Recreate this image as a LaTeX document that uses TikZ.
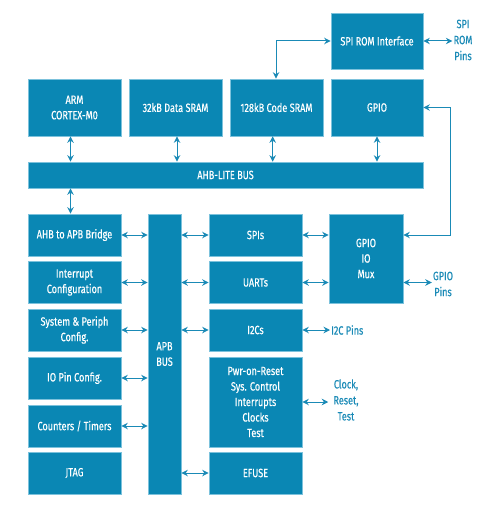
\documentclass[tikz,border=0pt]{standalone}
\usepackage{fontspec}
\setmainfont{Fira Sans}[FakeStretch=0.76,FakeBold=0.4]
\usetikzlibrary{arrows.meta,calc}
\definecolor{boxblue}{HTML}{0A87B4}
\definecolor{edgeblue}{HTML}{7CC2DC}
\definecolor{arrblue}{HTML}{1A8AB6}
\begin{document}
\begin{tikzpicture}[x=1pt,y=-1pt,
  box/.style={draw=edgeblue, line width=0.6pt, fill=boxblue, text=white, align=center,
    font=\fontsize{12}{15.5}\selectfont, inner sep=0pt},
  lbl/.style={text=arrblue, align=center, font=\fontsize{12}{16}\selectfont, inner sep=1pt},
  dar/.style={{Stealth[length=6.5pt,width=6.5pt]}-{Stealth[length=6.5pt,width=6.5pt]}, draw=arrblue, line width=1pt}]
\useasboundingbox (0,0) rectangle (500,511);
% top row
\node[box, minimum width=92, minimum height=56] (spirom) at (377,41) {SPI ROM Interface};
\node[box, minimum width=93, minimum height=57] (arm) at (74.5,107.5) {ARM\\CORTEX-M0};
\node[box, minimum width=93, minimum height=57] (dsram) at (175.5,107.5) {32kB Data SRAM};
\node[box, minimum width=93, minimum height=57] (csram) at (276.5,107.5) {128kB Code SRAM};
\node[box, minimum width=92, minimum height=57] (gpio) at (377,107.5) {GPIO};
\node[box, minimum width=395, minimum height=26] (ahb) at (225.5,175) {AHB-LITE BUS};
% left column
\node[box, minimum width=93, minimum height=42] (bridge) at (74.5,235) {AHB to APB Bridge};
\node[box, minimum width=93, minimum height=42] (intr) at (74.5,282.5) {Interrupt\\Configuration};
\node[box, minimum width=93, minimum height=42] (sys) at (74.5,330) {System \& Periph\\Config.};
\node[box, minimum width=93, minimum height=42] (iopin) at (74.5,378) {IO Pin Config.};
\node[box, minimum width=93, minimum height=42] (cnt) at (74.5,426) {Counters / Timers};
\node[box, minimum width=93, minimum height=42] (jtag) at (74.5,473) {JTAG};
% APB bus
\node[box, minimum width=33, minimum height=280] (apb) at (164.5,354) {APB\\BUS};
% right column
\node[box, minimum width=93, minimum height=42] (spis) at (255.5,235) {SPIs};
\node[box, minimum width=93, minimum height=42] (uarts) at (255.5,282.5) {UARTs};
\node[box, minimum width=93, minimum height=42] (i2cs) at (255.5,330) {I2Cs};
\node[box, minimum width=93, minimum height=90] (pwr) at (255.5,402) {Pwr-on-Reset\\Sys. Control\\Interrupts\\Clocks\\Test};
\node[box, minimum width=93, minimum height=42] (efuse) at (255.5,473) {EFUSE};
\node[box, minimum width=74, minimum height=89] (mux) at (366,258.5) {GPIO\\IO\\Mux};
% labels
\node[lbl] (rompins) at (463,40) {SPI\\ROM\\Pins};
\node[lbl] (gpiopins) at (443,284) {GPIO\\Pins};
\node[lbl, anchor=west] (i2cpins) at (330,330) {I2C Pins};
\node[lbl] (clk) at (346,400) {Clock,\\Reset,\\Test};
% connectors
\draw[dar] ([xshift=-4pt]arm.south) -- ([xshift=-4pt]arm.south |- ahb.north);
\draw[dar] ([xshift=1.5pt]dsram.south) -- ([xshift=1.5pt]dsram.south |- ahb.north);
\draw[dar] ([xshift=-3.8pt]csram.south) -- ([xshift=-3.8pt]csram.south |- ahb.north);
\draw[dar] (gpio.south) -- (gpio.south |- ahb.north);
\draw[dar] ([xshift=-4pt]bridge.north |- ahb.south) -- ([xshift=-4pt]bridge.north);
\draw[dar] (spirom.west) -| ([xshift=-0.5pt]csram.north);
\draw[dar] (spirom.east) -- (rompins.west |- spirom.east);
\draw[dar] (gpio.east) -- ++(27,0) |- (mux.east |- spis.east);
\foreach \b in {bridge,intr,sys,iopin,cnt}
  \draw[dar] (\b.east) -- (\b.east -| apb.west);
\foreach \b in {spis,uarts,i2cs,efuse}
  \draw[dar] (apb.east |- \b.west) -- (\b.west);
\draw[dar] (spis.east) -- (spis.east -| mux.west);
\draw[dar] (uarts.east) -- (uarts.east -| mux.west);
\draw[dar] (mux.east |- uarts.east) -- (gpiopins.west |- uarts.east);
\draw[dar] (i2cs.east) -- (i2cpins.west);
\draw[dar] (pwr.east) -- ([xshift=-4pt]clk.west |- pwr.east);
\end{tikzpicture}
\end{document}
